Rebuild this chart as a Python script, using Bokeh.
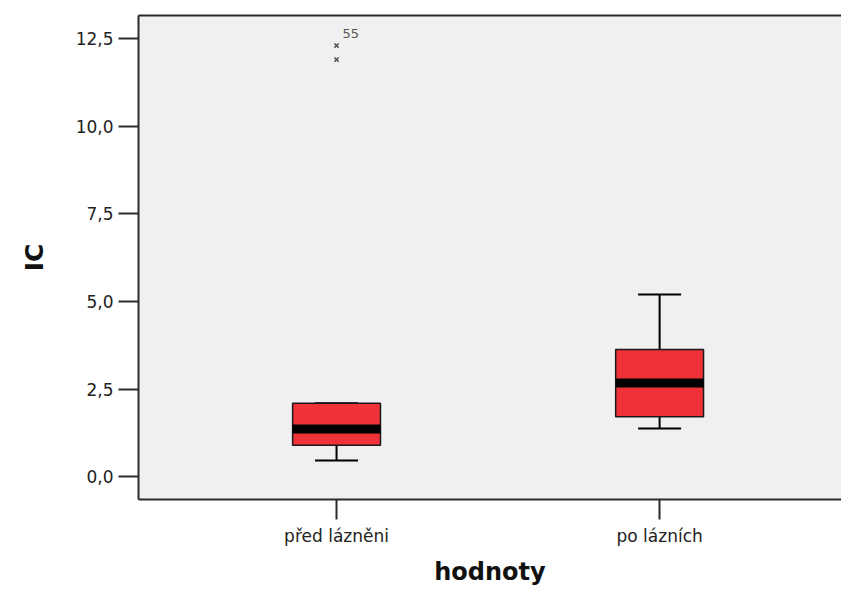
from bokeh.plotting import figure
from bokeh.models import FixedTicker, LinearAxis, Range1d, ColumnDataSource
from bokeh.embed import file_html
from bokeh.resources import INLINE

# ---- data ----
groups = ["před lázněni", "po lázních"]
group_pos = [1, 2]
q1 = [0.89, 1.71]
median = [1.36, 2.67]
q3 = [2.09, 3.63]
whisker_low = [0.46, 1.37]
whisker_high = [2.09, 5.20]
outlier_pos = [1, 1]
outlier_values = [12.31, 11.91]
outlier_labels = ["55", ""]
y_ticks = [0.0, 2.5, 5.0, 7.5, 10.0, 12.5]
y_tick_labels = ["0,0", "2,5", "5,0", "7,5", "10,0", "12,5"]

FONT = "DejaVu Sans"
AX = "#2b2b2b"

p = figure(width=841, height=588, output_backend="svg", toolbar_location=None,
           x_range=Range1d(0.387, 2.563), y_range=Range1d(-0.657, 13.171),
           min_border_left=138, min_border_right=0, min_border_top=15,
           min_border_bottom=89)
p.background_fill_color = "#f0f0f0"
p.border_fill_color = "white"
p.outline_line_color = None
p.xgrid.visible = False
p.ygrid.visible = False

box_w = 0.272
cap_w = 0.133

src = ColumnDataSource(dict(x=group_pos, q1=q1, q3=q3, med=median,
                            lo=whisker_low, hi=whisker_high,
                            cl=[g - cap_w / 2 for g in group_pos],
                            cr=[g + cap_w / 2 for g in group_pos]))

# whiskers
p.segment(x0="x", y0="q3", x1="x", y1="hi", source=src, line_color="black", line_width=2)
p.segment(x0="x", y0="q1", x1="x", y1="lo", source=src, line_color="black", line_width=2)
p.segment(x0="cl", y0="hi", x1="cr", y1="hi", source=src, line_color="black", line_width=2)
p.segment(x0="cl", y0="lo", x1="cr", y1="lo", source=src, line_color="black", line_width=2)
# boxes
p.vbar(x="x", top="q3", bottom="q1", width=box_w, source=src,
       fill_color="#ee3237", line_color="#1a1a1a", line_width=1.5)
# medians
p.rect(x="x", y="med", width=box_w, height=9, height_units="screen", source=src,
       fill_color="black", line_color=None)

# outliers
osrc = ColumnDataSource(dict(x=outlier_pos, y=outlier_values, t=outlier_labels))
p.scatter(x="x", y="y", source=osrc, marker="x", size=6, line_color="#444444", line_width=1.3)
p.text(x="x", y="y", text="t", source=osrc, x_offset=6, y_offset=-8,
       text_font_size="13px", text_color="#555555", text_baseline="bottom",
       text_font={"value": FONT})

# axes
yax = p.yaxis[0]
yax.ticker = FixedTicker(ticks=y_ticks)
yax.major_label_overrides = {t: l for t, l in zip(y_ticks, y_tick_labels)}
xax = p.xaxis[0]
xax.ticker = FixedTicker(ticks=group_pos)
xax.major_label_overrides = {g: l for g, l in zip(group_pos, groups)}

for ax in (xax, yax):
    ax.axis_line_color = AX
    ax.axis_line_width = 2
    ax.major_tick_line_color = AX
    ax.major_tick_line_width = 2
    ax.major_tick_in = 0
    ax.major_tick_out = 20
    ax.minor_tick_line_color = None
    ax.major_label_text_font = FONT
    ax.major_label_text_font_size = "17px"
    ax.major_label_text_color = "#222222"
    ax.axis_label_text_font = FONT
    ax.axis_label_text_font_style = "bold"
    ax.axis_label_text_color = "#111111"

yax.axis_label = "IC"
yax.axis_label_text_font_size = "25px"
yax.axis_label_standoff = 24
yax.major_label_standoff = 5
xax.axis_label = "hodnoty"
xax.axis_label_text_font_size = "24px"
xax.axis_label_standoff = 9
xax.major_label_standoff = 6

top = LinearAxis(ticker=FixedTicker(ticks=[]), axis_line_color=AX, axis_line_width=2,
                 major_tick_out=0, major_tick_in=0, minor_tick_line_color=None,
                 major_label_text_font_size="0px")
p.add_layout(top, "above")

open("out.html", "w").write(file_html(p, INLINE))
